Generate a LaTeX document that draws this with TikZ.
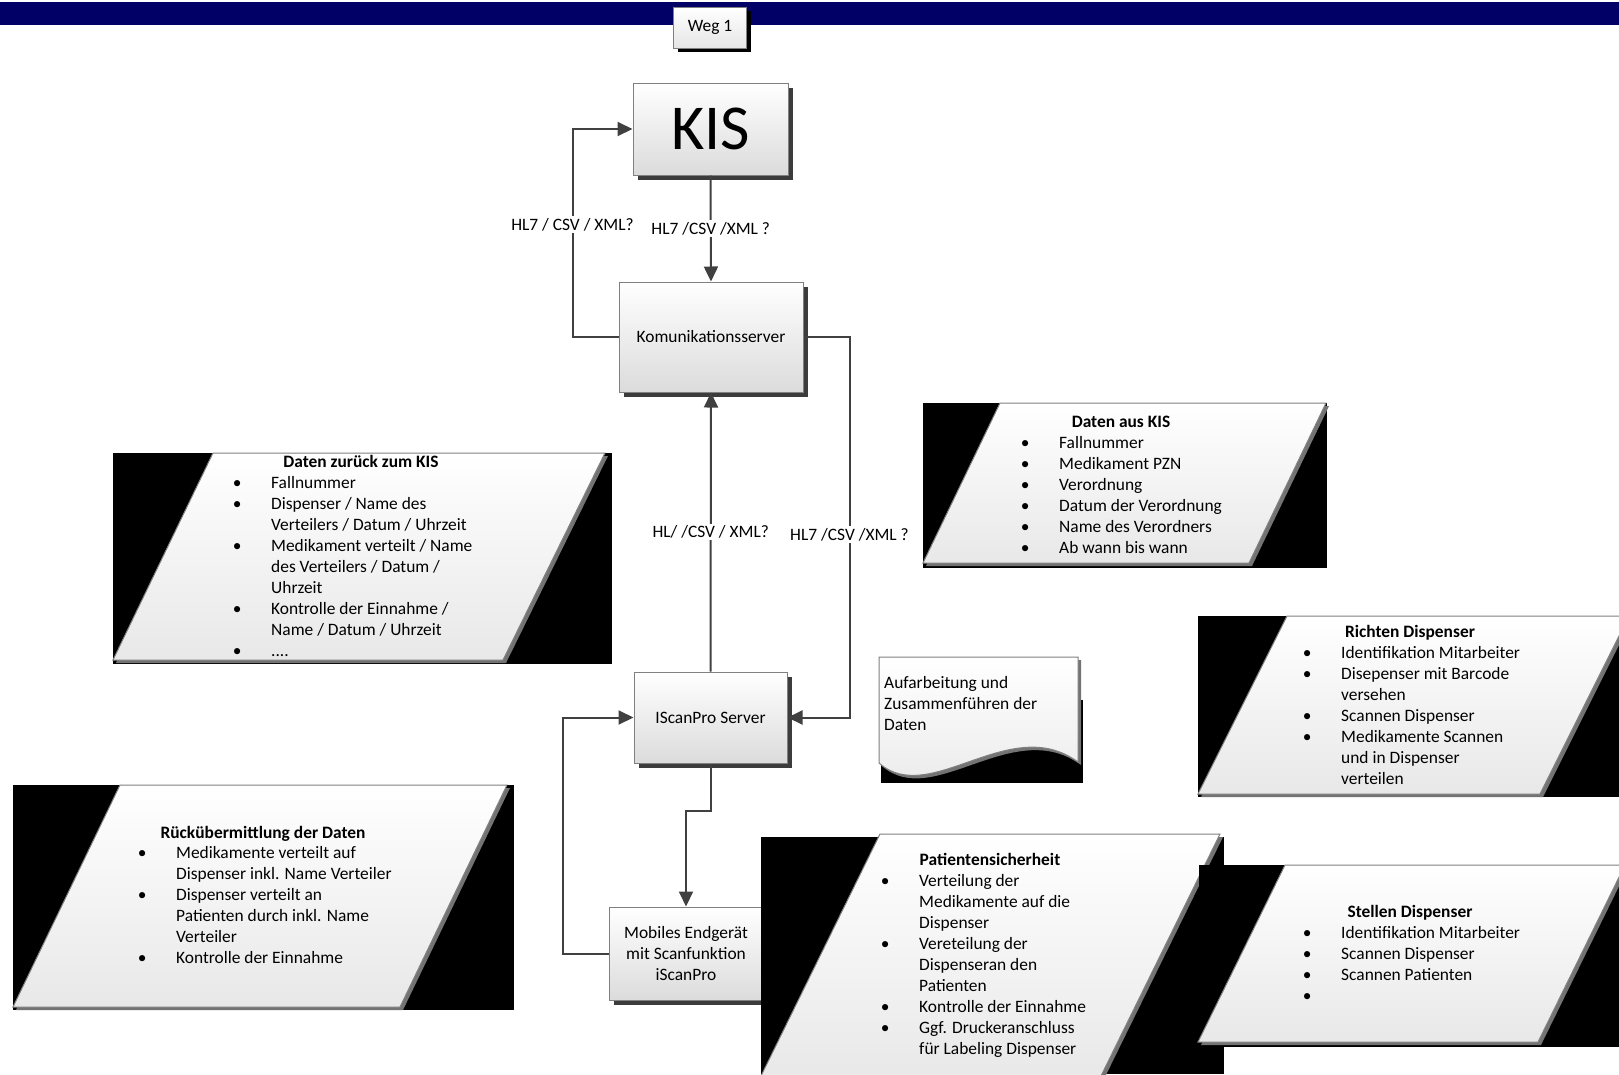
\documentclass[tikz,border=0pt]{standalone}
\usepackage{fontspec}
\setmainfont{Carlito}
\usetikzlibrary{arrows.meta,shadows,positioning}

\definecolor{navybar}{RGB}{0,0,102}
\definecolor{linegray}{RGB}{64,64,64}
\definecolor{boxborder}{RGB}{128,128,128}
\definecolor{shadowgray}{RGB}{60,60,60}

\newcommand{\bodyfont}{\fontsize{17.4}{21}\selectfont}
\newcommand{\bu}{\makebox[16pt]{\textbullet}}
\newcommand{\itemlist}[1]{\begin{tabular}[t]{@{}l@{\hspace{26pt}}l@{}}#1\end{tabular}}
\newcommand{\textlines}[1]{\begin{tabular}[t]{@{}l@{}}#1\end{tabular}}

\tikzset{
  procbox/.style={draw=boxborder, line width=1pt, top color=white, bottom color=black!14,
    drop shadow={shadow xshift=5pt, shadow yshift=-5pt, fill=shadowgray, opacity=1},
    font=\bodyfont, align=center, inner sep=0pt},
  tabbox/.style={draw=boxborder, line width=1pt, top color=white, bottom color=black!10,
    drop shadow={shadow xshift=4pt, shadow yshift=-4pt, fill=black, opacity=1},
    font=\bodyfont, inner sep=0pt},
  conn/.style={draw=linegray, line width=2pt},
  arr/.style={conn, -{Triangle[length=15pt,width=14pt]}},
  lbl/.style={fill=white, inner sep=2pt, font=\bodyfont},
  databox/.style={draw=boxborder, line width=1pt, top color=white, bottom color=black!9,
    drop shadow={shadow xshift=3pt, shadow yshift=-3pt, fill=black!55, opacity=1}},
  blackbg/.style={fill=black},
  headtxt/.style={anchor=base, inner sep=0pt, font=\bodyfont\bfseries},
  listtxt/.style={anchor=base west, inner sep=0pt, font=\bodyfont},
}

\begin{document}
\begin{tikzpicture}[x=1pt, y=-1pt]
\useasboundingbox (0,0) rectangle (1619,1074);
\clip (0,0) rectangle (1619,1074);

% Title bar
\fill[navybar] (0,1.5) rectangle (1619,25);
\node[tabbox, minimum width=73pt, minimum height=41pt] (weg) at (710,27.5) {Weg 1};

% Process boxes
\node[procbox, minimum width=155pt, minimum height=92pt, font=\fontsize{64}{72}\selectfont] (kis) at (710.5,129) {KIS};
\node[procbox, minimum width=184pt, minimum height=110pt] (komm) at (711,337) {Komunikationsserver};
\node[procbox, minimum width=153pt, minimum height=91pt] (iscan) at (710.5,717.5) {IScanPro Server};
\node[procbox, minimum width=154pt, minimum height=93pt] (mobil) at (686,953.5) {Mobiles Endgerät\\mit Scanfunktion\\iScanPro};

% Connectors
\draw[arr] (komm.west) -- ++(-46,0) |- node[lbl, pos=0.27] {HL7 / CSV / XML?} (kis.west);
\draw[arr] (kis.south) -- node[lbl] {HL7 /CSV /XML ?} (komm.north);
\draw[arr] (komm.east) -- ++(46,0) |- node[lbl, pos=0.26] {HL7 /CSV /XML ?} (iscan.east);
\draw[arr] (iscan.north) -- node[lbl] {HL/ /CSV / XML?} (komm.south);
\draw[arr] (iscan.south) -- ++(0,47) -| (mobil.north);
\draw[arr] (mobil.west) -- ++(-46,0) |- (iscan.west);

% Daten zurueck zum KIS
\fill[blackbg] (113,453) rectangle (612,664);
\path[databox] (213,453) -- (605,453) -- (503,660) -- (113,660) -- cycle;
\node[headtxt] (zurueckHead) at (361,467) {Daten zurück zum KIS};
\node[listtxt] (zurueckList) at (229,488) {\itemlist{%
  \bu & Fallnummer\\
  \bu & Dispenser / Name des\\
      & Verteilers / Datum / Uhrzeit\\
  \bu & Medikament verteilt / Name\\
      & des Verteilers / Datum /\\
      & Uhrzeit\\
  \bu & Kontrolle der Einnahme /\\
      & Name / Datum / Uhrzeit\\
  \bu & ....}};

% Daten aus KIS
\fill[blackbg] (923,403) rectangle (1327,568);
\path[databox] (1000,403) -- (1326,403) -- (1249,563) -- (923,563) -- cycle;
\node[headtxt] (ausHead) at (1121,427) {Daten aus KIS};
\node[listtxt] (ausList) at (1017,448) {\itemlist{%
  \bu & Fallnummer\\
  \bu & Medikament PZN\\
  \bu & Verordnung\\
  \bu & Datum der Verordnung\\
  \bu & Name des Verordners\\
  \bu & Ab wann bis wann}};

% Richten Dispenser
\fill[blackbg] (1198,616) rectangle (1619,797);
\path[databox] (1287,616) -- (1629,616) -- (1540,794) -- (1198,794) -- cycle;
\node[headtxt] (richtenHead) at (1410,637) {Richten Dispenser};
\node[listtxt] (richtenList) at (1299,658) {\itemlist{%
  \bu & Identifikation Mitarbeiter\\
  \bu & Disepenser mit Barcode\\
      & versehen\\
  \bu & Scannen Dispenser\\
  \bu & Medikamente Scannen\\
      & und in Dispenser\\
      & verteilen}};

% Rueckuebermittlung der Daten
\fill[blackbg] (13,785) rectangle (514,1010);
\path[databox] (120,785) -- (507,785) -- (400,1007) -- (13,1007) -- cycle;
\node[headtxt] (rueckHead) at (263,838) {Rückübermittlung der Daten};
\node[listtxt] (rueckList) at (134,858) {\itemlist{%
  \bu & Medikamente verteilt auf\\
      & Dispenser inkl. Name Verteiler\\
  \bu & Dispenser verteilt an\\
      & Patienten durch inkl. Name\\
      & Verteiler\\
  \bu & Kontrolle der Einnahme}};

% Aufarbeitung (document)
\fill[blackbg] (881,700) rectangle (1083,783);
\path[databox] (879,657) -- (1078,657) -- (1078,762)
  .. controls (1010,712) and (930,808) .. (879,763) -- cycle;
\node[listtxt] (aufText) at (884,688) {\textlines{Aufarbeitung und\\Zusammenführen der\\Daten}};

% Patientensicherheit
\fill[blackbg] (761,837) rectangle (1224,1074);
\path[databox] (880,834) -- (1220,834) -- (1099,1080) -- (759,1080) -- cycle;
\node[headtxt] (patHead) at (990,865) {Patientensicherheit};
\node[listtxt] (patList) at (877,886) {\itemlist{%
  \bu & Verteilung der\\
      & Medikamente auf die\\
      & Dispenser\\
  \bu & Vereteilung der\\
      & Dispenseran den\\
      & Patienten\\
  \bu & Kontrolle der Einnahme\\
  \bu & Ggf. Druckeranschluss\\
      & für Labeling Dispenser}};

% Stellen Dispenser
\fill[blackbg] (1199,865) rectangle (1619,1047);
\path[databox] (1285,865) -- (1625,865) -- (1538,1042) -- (1198,1042) -- cycle;
\node[headtxt] (stellenHead) at (1410,917) {Stellen Dispenser};
\node[listtxt] (stellenList) at (1299,938) {\itemlist{%
  \bu & Identifikation Mitarbeiter\\
  \bu & Scannen Dispenser\\
  \bu & Scannen Patienten\\
  \bu & }};
\end{tikzpicture}
\end{document}
